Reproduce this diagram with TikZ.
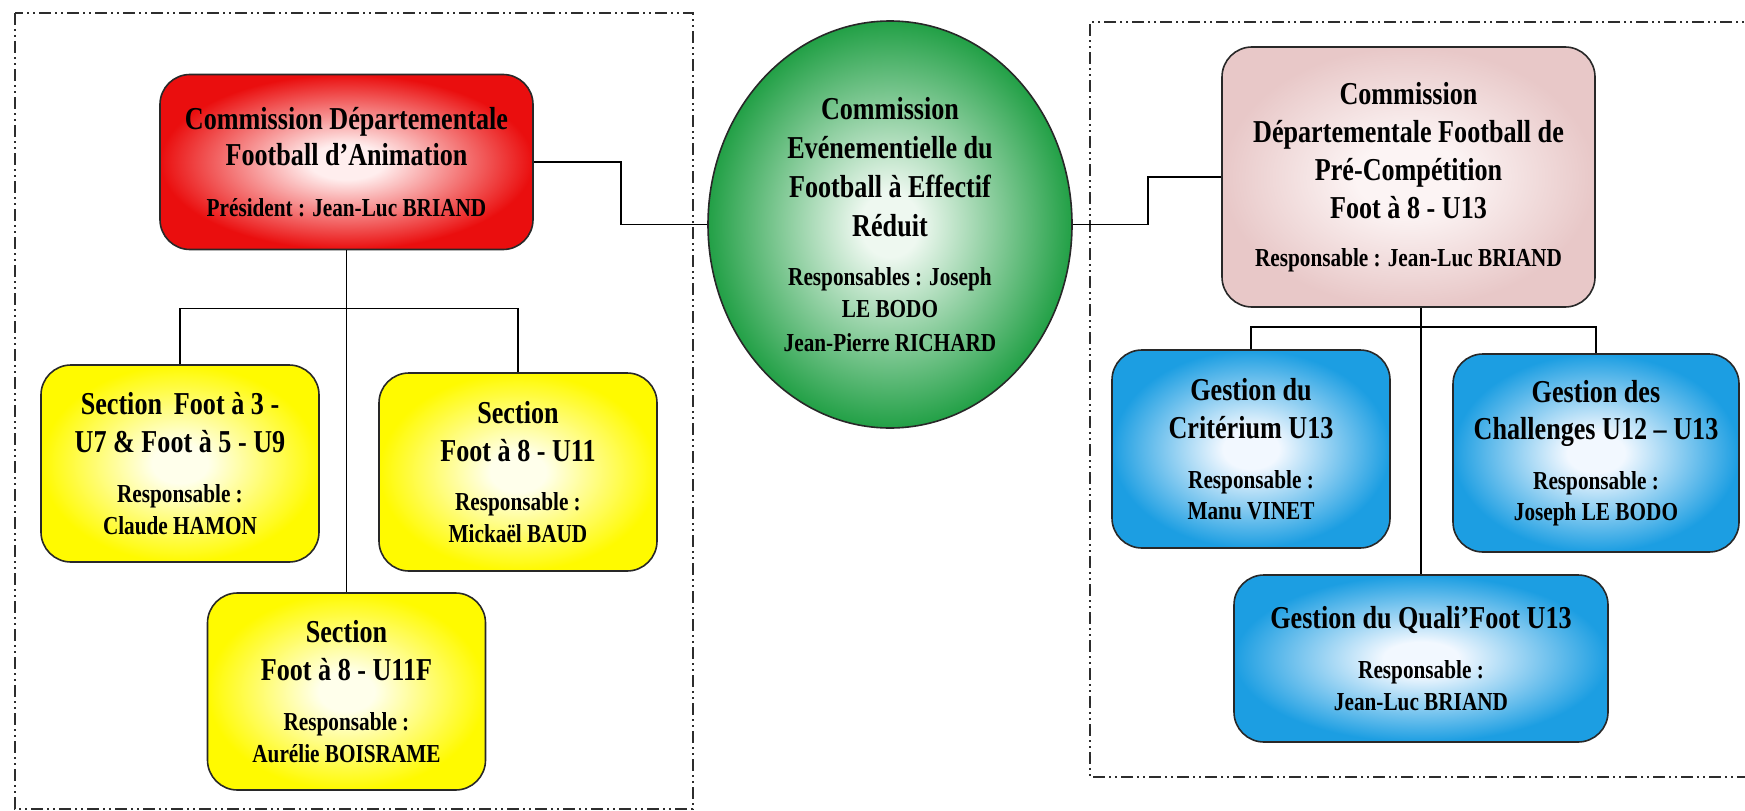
\documentclass[tikz,border=0pt]{standalone}
\usepackage{fontspec}
\setmainfont{Liberation Serif}[FakeStretch=0.82]
\usetikzlibrary{shapes.geometric,calc}

\definecolor{cred}{RGB}{234,14,14}
\definecolor{credc}{RGB}{255,238,238}
\definecolor{cgreen}{RGB}{34,160,70}
\definecolor{cgreenc}{RGB}{238,248,240}
\definecolor{cpink}{RGB}{232,200,200}
\definecolor{cpinkc}{RGB}{252,244,244}
\definecolor{cyel}{RGB}{255,250,0}
\definecolor{cyelc}{RGB}{255,255,235}
\definecolor{cblue}{RGB}{28,158,226}
\definecolor{cbluec}{RGB}{242,248,255}
\definecolor{boxline}{RGB}{40,40,40}
\definecolor{frameline}{RGB}{45,45,45}

\pgfdeclareradialshading{redglow}{\pgfpoint{0bp}{0bp}}{color(0bp)=(credc); color(5bp)=(credc); color(25bp)=(cred); color(50bp)=(cred)}
\pgfdeclareradialshading{greenglow}{\pgfpoint{0bp}{0bp}}{color(0bp)=(cgreenc); color(4bp)=(cgreenc); color(25bp)=(cgreen); color(50bp)=(cgreen)}
\pgfdeclareradialshading{pinkglow}{\pgfpoint{0bp}{0bp}}{color(0bp)=(cpinkc); color(7bp)=(cpinkc); color(25bp)=(cpink); color(50bp)=(cpink)}
\pgfdeclareradialshading{yelglow}{\pgfpoint{0bp}{0bp}}{color(0bp)=(cyelc); color(5bp)=(cyelc); color(25bp)=(cyel); color(50bp)=(cyel)}
\pgfdeclareradialshading{blueglow}{\pgfpoint{0bp}{0bp}}{color(0bp)=(cbluec); color(5bp)=(cbluec); color(25bp)=(cblue); color(50bp)=(cblue)}

\newcommand\Ss{\fontsize{26}{32}\selectfont\bfseries}

\tikzset{
  orgbox/.style={draw=boxline, line width=1.6bp, rounded corners=30bp, align=center,
    font=\fontsize{32}{38}\selectfont\bfseries, inner sep=0pt},
  frame/.style={draw=frameline, line width=1.8bp,
    dash pattern=on 12bp off 4bp on 2bp off 4bp on 2bp off 4bp},
  conn/.style={draw=black, line width=1.5bp}
}

\begin{document}
\begin{tikzpicture}[x=1bp,y=-1bp]
\useasboundingbox (0,0) rectangle (1745,811);
\fill[white] (0,0) rectangle (1745,811);

% frames
\draw[frame] (15,13) rectangle (693,809);
\draw[frame] (1760,22) -- (1090,22) -- (1090,777) -- (1760,777);

% nodes
\node[orgbox, shading=redglow, minimum width=373bp, minimum height=175bp] (red) at (346.5,162)
  {Commission Départementale\\[-1bp]Football d’Animation\\[13bp]{\Ss Président : Jean-Luc BRIAND}};

\node[draw=boxline, line width=1.6bp, ellipse, shading=greenglow, align=center,
  font=\fontsize{32}{39}\selectfont\bfseries, inner sep=0pt,
  minimum width=364bp, minimum height=407bp] (green) at (890,224.5)
  {Commission\\Evénementielle du\\Football à Effectif\\Réduit\\[10bp]{\Ss Responsables : Joseph}\\[-7bp]{\Ss LE BODO}\\[-5bp]{\Ss Jean-Pierre RICHARD}};

\node[orgbox, shading=pinkglow, minimum width=373bp, minimum height=260bp] (pink) at (1408.5,177)
  {Commission\\Départementale Football de\\Pré-Compétition\\Foot à 8 - U13\\[10bp]{\Ss Responsable : Jean-Luc BRIAND}};

\node[orgbox, shading=yelglow, minimum width=278bp, minimum height=197bp] (y1) at (180,463.5)
  {Section\,\ Foot à 3 -\\U7 \& Foot à 5 - U9\\[12bp]{\Ss Responsable :}\\[-6bp]{\Ss Claude HAMON}};

\node[orgbox, shading=yelglow, minimum width=278bp, minimum height=198bp] (y2) at (518,472)
  {Section\\Foot à 8 - U11\\[12bp]{\Ss Responsable :}\\[-6bp]{\Ss Mickaël BAUD}};

\node[orgbox, shading=yelglow, minimum width=278bp, minimum height=197bp] (y3) at (346.5,691.5)
  {Section\\Foot à 8 - U11F\\[12bp]{\Ss Responsable :}\\[-6bp]{\Ss Aurélie BOISRAME}};

\node[orgbox, shading=blueglow, minimum width=278bp, minimum height=198bp] (b1) at (1251,449)
  {Gestion du\\Critérium U13\\[12bp]{\Ss Responsable :}\\[-7bp]{\Ss Manu VINET}};

\node[orgbox, shading=blueglow, minimum width=286bp, minimum height=198bp] (b2) at (1596,453)
  {Gestion des\\Challenges U12 – U13\\[12bp]{\Ss Responsable :}\\[-7bp]{\Ss Joseph LE BODO}};

\node[orgbox, shading=blueglow, minimum width=374bp, minimum height=167bp] (b3) at (1421,658.5)
  {Gestion du Quali’Foot U13\\[12bp]{\Ss Responsable :}\\[-6bp]{\Ss Jean-Luc BRIAND}};

% connectors
\draw[conn] (red.east) -- ++(87,0) |- (green.west);
\draw[conn] (green.east) -- ++(75,0) |- (pink.west);
\draw[conn] (red.south) -- (y3.north);
\draw[conn] (y1.north) |- ($(red.south)+(0,58)$) -| (y2.north);
\coordinate (pfoot) at (pink.south -| b3.north);
\draw[conn] (pfoot) -- (b3.north);
\draw[conn] (b1.north) |- ($(pfoot)+(0,19)$) -| (b2.north);
\end{tikzpicture}
\end{document}
